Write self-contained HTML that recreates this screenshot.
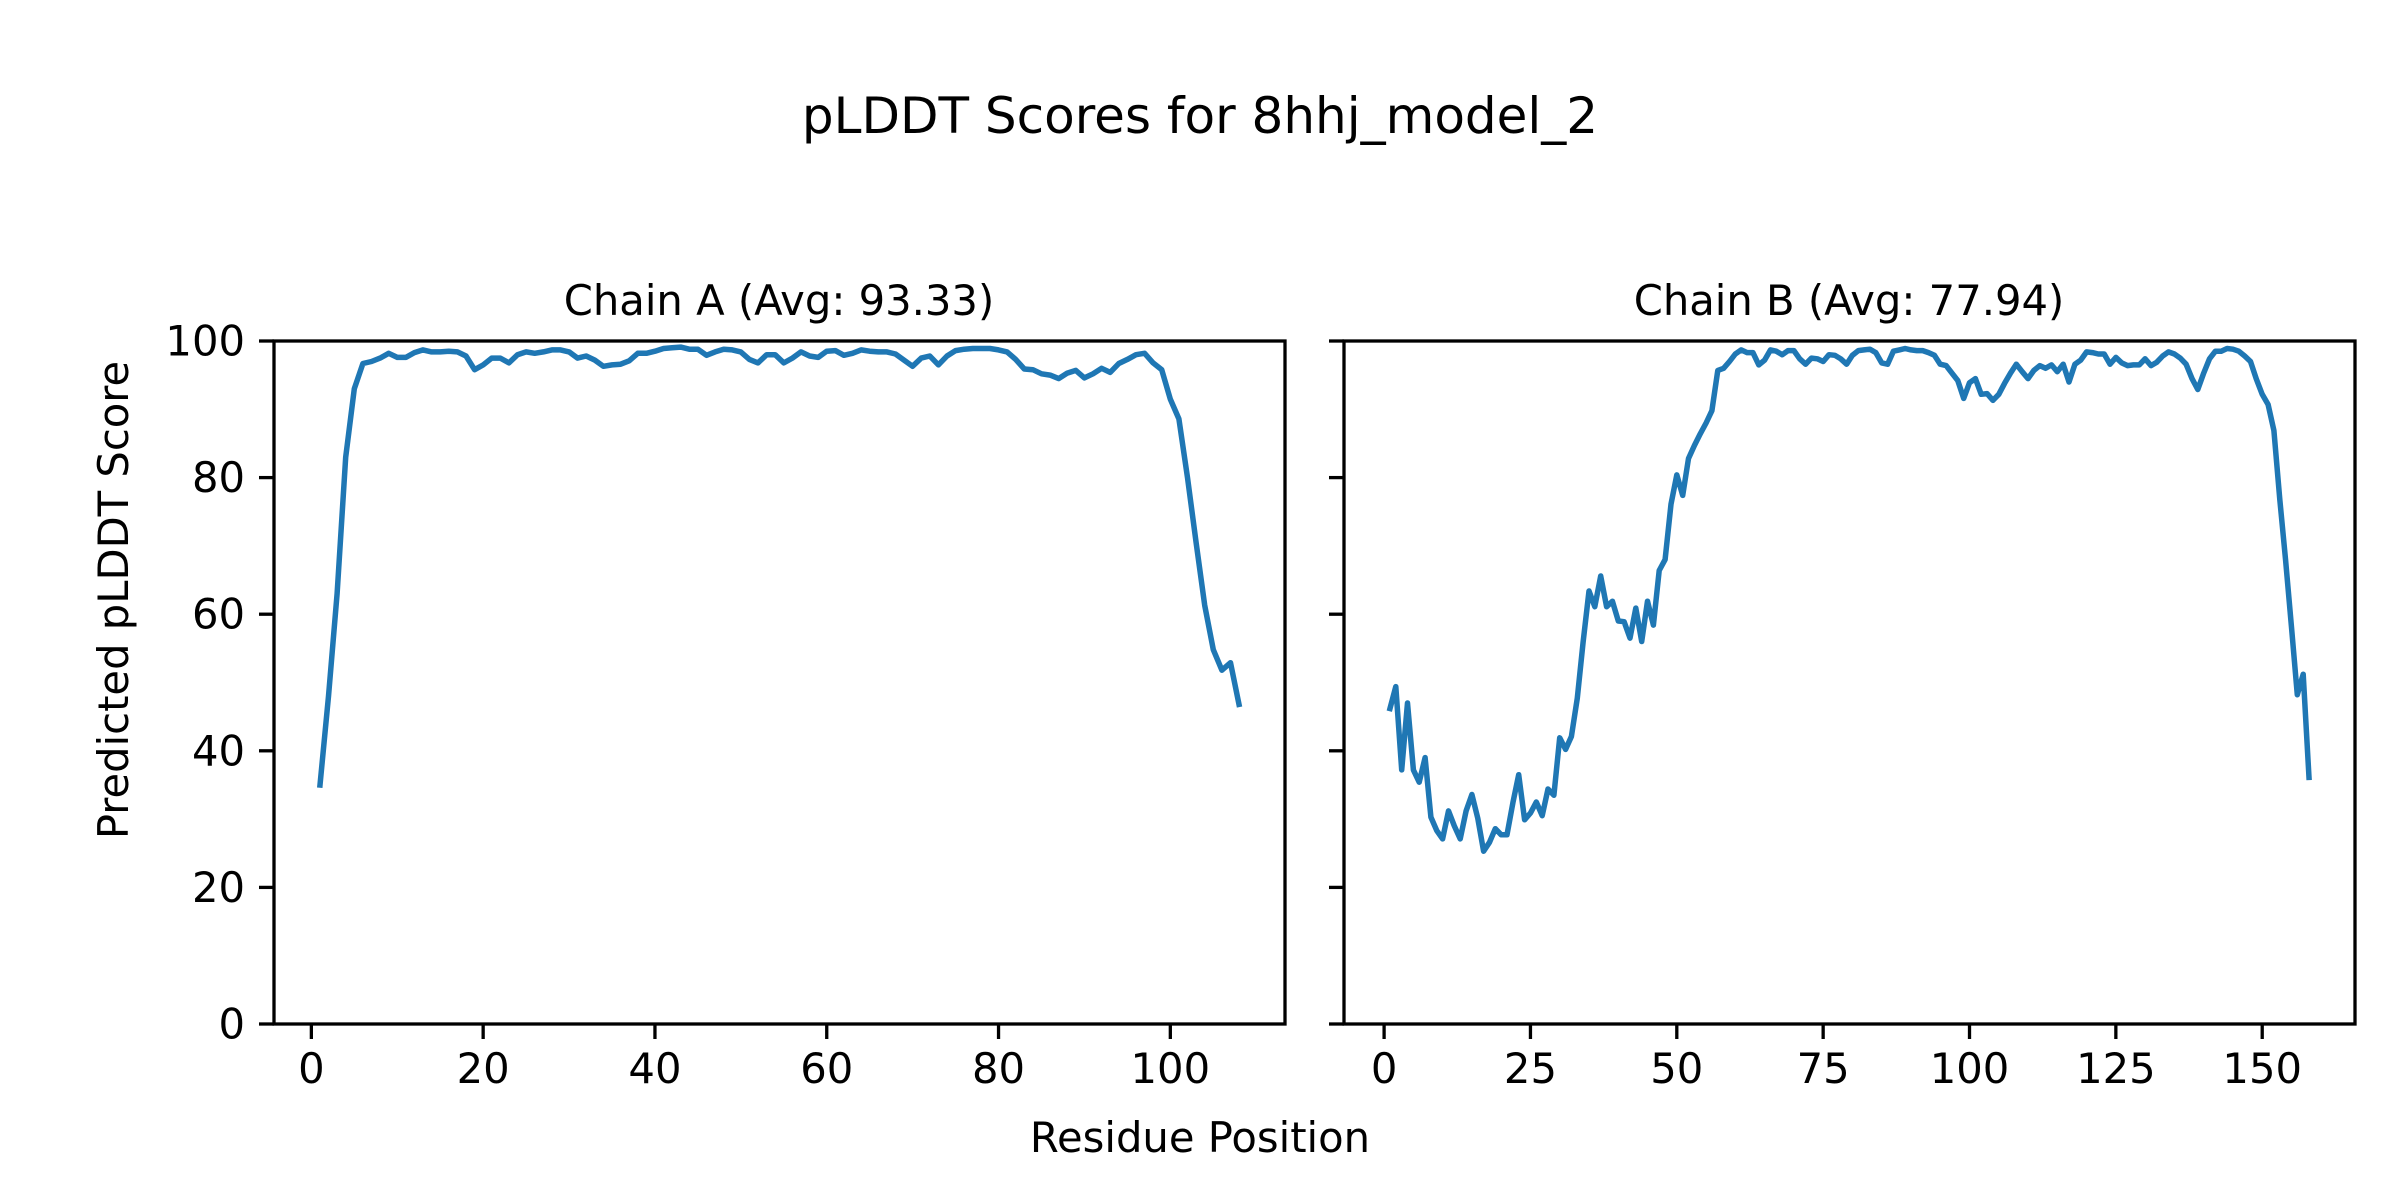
<!DOCTYPE html>
<html><head><meta charset="utf-8"><style>
html,body{margin:0;padding:0;background:#fff;}
svg{display:block;font-family:"DejaVu Sans","Liberation Sans",sans-serif;}
</style></head><body>
<svg id="s" width="2400" height="1200" viewBox="0 0 2400 1200" xmlns="http://www.w3.org/2000/svg">
<rect width="2400" height="1200" fill="#fff"/>
<text x="1200" y="133" font-size="50" text-anchor="middle">pLDDT Scores for 8hhj_model_2</text>
<text x="779" y="315" font-size="41.7" text-anchor="middle">Chain A (Avg: 93.33)</text>
<text x="1849" y="315" font-size="41.7" text-anchor="middle">Chain B (Avg: 77.94)</text>
<text x="1200" y="1152" font-size="41.7" text-anchor="middle">Residue Position</text>
<text transform="translate(128,600) rotate(-90)" font-size="41.7" text-anchor="middle">Predicted pLDDT Score</text>
<g id="g"></g>
</svg>
<script>
var A=[35,48,63,83,93,96.7,97,97.5,98.2,97.6,97.6,98.3,98.7,98.4,98.4,98.5,98.4,97.8,95.8,96.5,97.5,97.5,96.8,98,98.4,98.2,98.4,98.7,98.7,98.4,97.5,97.8,97.2,96.3,96.5,96.6,97.1,98.2,98.2,98.5,98.9,99,99.1,98.8,98.8,97.9,98.4,98.8,98.7,98.4,97.3,96.8,98,98,96.8,97.5,98.4,97.8,97.6,98.5,98.6,97.9,98.2,98.7,98.5,98.4,98.4,98.1,97.2,96.3,97.5,97.8,96.5,97.8,98.6,98.8,98.9,98.9,98.9,98.7,98.4,97.3,95.9,95.8,95.2,95,94.5,95.3,95.7,94.6,95.2,96,95.4,96.7,97.3,98,98.2,96.8,95.8,91.5,88.6,80,70.5,61.3,54.8,51.8,52.9,46.8];
var B=[46.2,49.4,37.2,47,37.2,35.4,39,30.3,28.3,27.1,31.2,29,27.1,31.2,33.6,30.1,25.3,26.6,28.6,27.7,27.7,32.4,36.5,29.9,30.9,32.5,30.5,34.4,33.5,41.9,40.2,42.1,47.7,55.9,63.4,61.1,65.6,61.1,61.9,59,58.9,56.5,60.9,56,61.9,58.4,66.4,68,76.1,80.4,77.4,82.8,84.7,86.4,88,89.8,95.7,96,97,98.1,98.7,98.3,98.3,96.5,97.2,98.7,98.5,98,98.6,98.6,97.4,96.6,97.5,97.4,97,98,97.9,97.4,96.6,97.9,98.6,98.7,98.8,98.3,96.8,96.6,98.5,98.7,98.9,98.7,98.6,98.6,98.3,97.9,96.6,96.4,95.3,94.2,91.6,93.9,94.5,92.2,92.3,91.3,92.2,93.8,95.3,96.6,95.5,94.5,95.7,96.4,96,96.5,95.5,96.6,94,96.6,97.2,98.4,98.3,98.1,98.1,96.6,97.6,96.8,96.4,96.5,96.5,97.4,96.4,96.9,97.8,98.4,98.1,97.5,96.6,94.5,92.9,95.3,97.4,98.5,98.5,98.9,98.8,98.5,97.8,97,94.4,92.2,90.7,86.9,76.8,67.9,58.1,48.2,51.2,36.1];
var NS="http://www.w3.org/2000/svg",g=document.getElementById('g');
function el(t,a,txt){var e=document.createElementNS(NS,t);for(var k in a)e.setAttribute(k,a[k]);if(txt!==undefined)e.textContent=txt;g.appendChild(e);return e;}
var T=341,Bt=1024;
function Y(v){return Bt-(v/100)*(Bt-T);}
function panel(L,R,data,xt,ylab){
 var n=data.length,m=(n-1)*0.05,x0=1-m,x1=n+m;
 function X(v){return L+(v-x0)/(x1-x0)*(R-L);}
 var pts=data.map(function(v,i){return X(i+1).toFixed(1)+","+Y(v).toFixed(1);}).join(" ");
 el('polyline',{points:pts,fill:'none',stroke:'#1f77b4','stroke-width':5.5,'stroke-linejoin':'round','stroke-linecap':'square'});
 for(var j=0;j<=100;j+=20){var y=Y(j);el('line',{x1:L-15,x2:L,y1:y,y2:y,stroke:'#000','stroke-width':3.3});
  if(ylab)el('text',{x:L-29,y:y+14.5,'font-size':41.7,'text-anchor':'end'},String(j));}
 xt.forEach(function(v){var x=X(v);el('line',{x1:x,x2:x,y1:Bt,y2:Bt+15,stroke:'#000','stroke-width':3.3});
  el('text',{x:x,y:1083,'font-size':41.7,'text-anchor':'middle'},String(v));});
 el('rect',{x:L,y:T,width:R-L,height:Bt-T,fill:'none',stroke:'#000','stroke-width':3.3});
}
panel(274,1285,A,[0,20,40,60,80,100],true);
panel(1344,2355,B,[0,25,50,75,100,125,150],false);
</script>
</body></html>
